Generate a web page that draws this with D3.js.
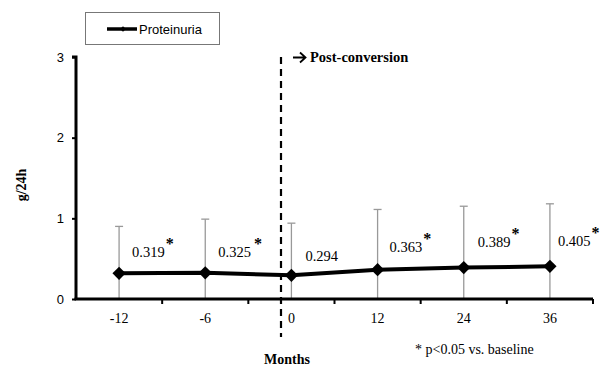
<!DOCTYPE html>
<html>
<head>
<meta charset="utf-8">
<script src="https://cdn.jsdelivr.net/npm/d3@7.9.0/dist/d3.min.js"></script>
<style>
  body { margin: 0; background: #fff; }
  svg { display: block; }
</style>
</head>
<body>
<svg id="chart" width="609" height="371"></svg>
<script>
// data
const months = ['-12', '-6', '0', '12', '24', '36'];
const proteinuria = [0.319, 0.325, 0.294, 0.363, 0.389, 0.405];
const upperBar = [0.90, 0.99, 0.94, 1.11, 1.15, 1.18];
const significant = [true, true, false, true, true, true];
const yTicks = [0, 1, 2, 3];

const svg = d3.select('#chart');
const plotLeft = 76, plotRight = 593, plotTop = 57, plotBottom = 299;
const serif = 'Liberation Serif, Times New Roman, serif';
const sans = 'Liberation Sans, Arial, sans-serif';

const x = d3.scaleBand().domain(months).range([plotLeft, plotRight]);
const y = d3.scaleLinear().domain([0, 3]).range([plotBottom, plotTop]);
const cx = d => x(d) + x.bandwidth() / 2;

// legend
const lg = svg.append('g');
lg.append('rect').attr('x', 85.5).attr('y', 12.5).attr('width', 134).attr('height', 32)
  .attr('fill', '#fff').attr('stroke', '#777').attr('stroke-width', 1);
lg.append('line').attr('x1', 107).attr('x2', 137).attr('y1', 29).attr('y2', 29)
  .attr('stroke', '#000').attr('stroke-width', 3.5);
lg.append('path').attr('d', d3.symbol(d3.symbolSquare, 16)())
  .attr('transform', 'translate(123,29) rotate(45)').attr('fill', '#000');
lg.append('text').attr('x', 139).attr('y', 34).text('Proteinuria')
  .attr('font-family', sans).attr('font-size', 13).attr('fill', '#000');

// conversion marker
const xConv = 281;
svg.append('line').attr('x1', xConv).attr('x2', xConv).attr('y1', plotTop).attr('y2', 337)
  .attr('stroke', '#000').attr('stroke-width', 2.2).attr('stroke-dasharray', '7,5');
// arrow glyph drawn as a small path
svg.append('path').attr('d', 'M293,57.5H305M300,52.5L305.5,57.5L300,62.5')
  .attr('fill', 'none').attr('stroke', '#000').attr('stroke-width', 1.8);
svg.append('text').attr('x', 310).attr('y', 62)
  .attr('font-family', serif).attr('font-size', 14.5)
  .attr('font-weight', 'bold').attr('fill', '#000').text('Post-conversion');

// error bars (upper whisker, lower clipped at zero)
const eb = svg.append('g').attr('stroke', '#999').attr('stroke-width', 1.3);
months.forEach((m, i) => {
  eb.append('line').attr('x1', cx(m)).attr('x2', cx(m)).attr('y1', y(upperBar[i])).attr('y2', y(0));
  eb.append('line').attr('x1', cx(m) - 4).attr('x2', cx(m) + 4).attr('y1', y(upperBar[i])).attr('y2', y(upperBar[i]));
});

// axes
const yAxis = svg.append('g').attr('transform', `translate(${plotLeft},0)`)
  .call(d3.axisLeft(y).tickValues(yTicks).tickSize(4).tickFormat(d3.format('d')));
yAxis.select('.domain').attr('stroke', '#000').attr('stroke-width', 3)
  .attr('d', `M-4,${plotTop}H0V${plotBottom}`);
yAxis.selectAll('.tick line').attr('stroke', '#000').attr('stroke-width', 2);
yAxis.selectAll('.tick text').attr('font-family', sans).attr('fill', '#000')
  .attr('font-size', 13).attr('x', -12);

const xAxis = svg.append('g').attr('transform', `translate(0,${plotBottom})`);
xAxis.append('line').attr('x1', plotLeft - 1.5).attr('x2', plotRight).attr('stroke', '#000').attr('stroke-width', 3);
const bounds = months.map(m => x(m)).concat([plotRight]).slice(1);
xAxis.selectAll('.tk').data(bounds).join('line').attr('class', 'tk')
  .attr('x1', d => d).attr('x2', d => d).attr('y1', 0).attr('y2', 5)
  .attr('stroke', '#000').attr('stroke-width', 2);
xAxis.selectAll('.lbl').data(months).join('text').attr('class', 'lbl')
  .attr('x', d => cx(d)).attr('y', 24).attr('text-anchor', 'middle')
  .attr('font-family', serif).attr('font-size', 14).attr('fill', '#000')
  .text(d => d);

// line and markers
const line = d3.line().x((d, i) => cx(months[i])).y(d => y(d));
svg.append('path').datum(proteinuria).attr('d', line)
  .attr('fill', 'none').attr('stroke', '#000').attr('stroke-width', 4);
svg.selectAll('.pt').data(proteinuria).join('path').attr('class', 'pt')
  .attr('d', d3.symbol(d3.symbolSquare, 88)())
  .attr('transform', (d, i) => `translate(${cx(months[i])},${y(d)}) rotate(45)`)
  .attr('fill', '#000');

// value labels
const labelOffsets = [13, 13, 14, 12, 14, 8];
const labelLift = [42, 42, 40, 44, 47, 46];
const vl = svg.append('g').attr('font-family', serif).attr('fill', '#000');
proteinuria.forEach((v, i) => {
  const tx = cx(months[i]) + labelOffsets[i];
  const ty = y(v) - labelLift[i] + 26;
  const t = vl.append('text').attr('x', tx).attr('y', ty).attr('font-size', 14.5).text(d3.format('.3f')(v));
  if (significant[i]) {
    const w = t.node().getComputedTextLength();
    vl.append('text').attr('x', tx + w + (i === 1 ? 3 : 1)).attr('y', ty - 8)
      .attr('font-size', 16).attr('font-weight', 'bold').text('*');
  }
});

// axis titles and footnote
svg.append('text').attr('transform', `translate(26,185) rotate(-90)`).attr('text-anchor', 'middle')
  .attr('font-family', serif).attr('font-size', 14).attr('fill', '#000')
  .attr('font-weight', 'bold').text('g/24h');
svg.append('text').attr('x', 287).attr('y', 364).attr('text-anchor', 'middle')
  .attr('font-family', serif).attr('font-size', 14).attr('fill', '#000')
  .attr('font-weight', 'bold').text('Months');
svg.append('text').attr('x', 415).attr('y', 354)
  .attr('font-family', serif).attr('font-size', 14).attr('fill', '#000')
  .text('* p<0.05 vs. baseline');
</script>
</body>
</html>
